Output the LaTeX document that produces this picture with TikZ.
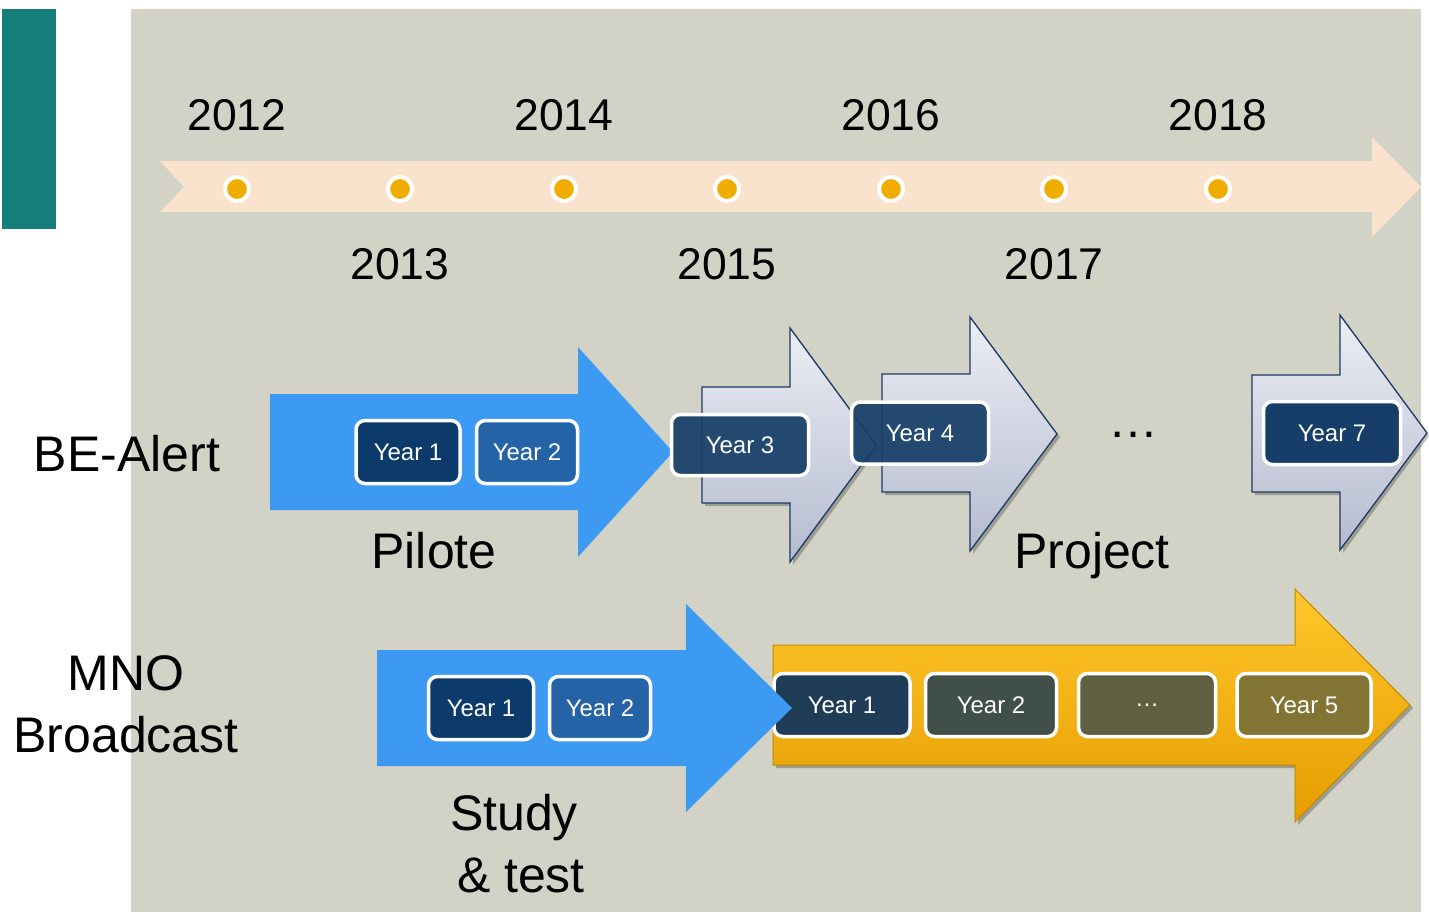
\documentclass[tikz,border=0pt]{standalone}
\usepackage{fontspec}
\setmainfont{Liberation Sans}
\definecolor{bgc}{HTML}{D2D2C6}
\definecolor{tealc}{HTML}{167E7A}
\definecolor{bandc}{HTML}{FAE3CC}
\definecolor{dotc}{HTML}{F0AD00}
\definecolor{bluea}{HTML}{3D9AF3}
\definecolor{navy}{HTML}{0C3A6A}
\definecolor{midblue}{HTML}{2363A6}
\definecolor{gtop}{HTML}{ECEEF4}
\definecolor{gbot}{HTML}{B5BBD0}
\definecolor{gline}{HTML}{1B3A63}
\definecolor{boxdark}{HTML}{163E68}
\definecolor{goldtop}{HTML}{FFC72C}
\definecolor{goldbot}{HTML}{E69D00}
\definecolor{goldline}{HTML}{C08A00}
\definecolor{gy1}{HTML}{1F3D56}
\definecolor{gy2}{HTML}{404F48}
\definecolor{gy3}{HTML}{5E603F}
\definecolor{gy5}{HTML}{827534}
\tikzset{
  ybox/.style={draw=white, line width=3.5pt, rounded corners=9pt, text=white,
    font=\fontsize{24}{28}\selectfont, minimum height=63pt, inner sep=0pt},
  bigtxt/.style={font=\fontsize{50}{56}\selectfont, anchor=base, inner sep=0pt},
  yrtxt/.style={font=\fontsize{44.5}{50}\selectfont, anchor=base, inner sep=0pt},
  tdot/.style={circle, fill=dotc, draw=white, line width=4pt, minimum size=24pt, inner sep=0pt},
  grayarrow/.style={draw=gline, line width=1.3pt, top color=gtop, bottom color=gbot},
  shadowc/.style={fill=black, opacity=0.25},
}
\begin{document}
\begin{tikzpicture}[x=1pt,y=-1pt]
\useasboundingbox (0,0) rectangle (1429,912);
\fill[white] (0,0) rectangle (1429,912);
% backgrounds
\fill[bgc] (131,9) rectangle (1421,912);
\fill[tealc] (2,9) rectangle (56,229);
% timeline band
\fill[bandc] (160,161) -- (1372,161) -- (1372,137) -- (1421,187) -- (1372,237) -- (1372,212) -- (160,212) -- (184,187) -- cycle;
\foreach \i/\x in {1/237,2/400,3/564,4/727,5/891,6/1054,7/1218}
  \node[tdot] (d\i) at (\x,189) {};
% year labels
\node[yrtxt] (y2012) at (237,131) {2012};
\node[yrtxt] (y2014) at (564,131) {2014};
\node[yrtxt] (y2016) at (891,131) {2016};
\node[yrtxt] (y2018) at (1218,131) {2018};
\node[yrtxt] (y2013) at (400,279) {2013};
\node[yrtxt] (y2015) at (727,279) {2015};
\node[yrtxt] (y2017) at (1054,279) {2017};
% row labels
\node[bigtxt] (bealert) at (127,471) {BE-Alert};
\node[bigtxt] (mno) at (126,690) {MNO};
\node[bigtxt] (broadcast) at (126,752) {Broadcast};
% Pilote arrow
\fill[bluea] (270,394) -- (578,394) -- (578,347) -- (673,452) -- (578,557) -- (578,510) -- (270,510) -- cycle;
% project arrows with shadows
\fill[shadowc] (705,390) -- (793,390) -- (793,331) -- (879,448) -- (793,565) -- (793,506) -- (705,506) -- cycle;
\path[grayarrow] (702,387) -- (790,387) -- (790,328) -- (876,445) -- (790,562) -- (790,503) -- (702,503) -- cycle;
\fill[shadowc] (885,377) -- (973,377) -- (973,320) -- (1060,437) -- (973,554) -- (973,495) -- (885,495) -- cycle;
\path[grayarrow] (882,374) -- (970,374) -- (970,317) -- (1057,434) -- (970,551) -- (970,492) -- (882,492) -- cycle;
\fill[shadowc] (1255,378) -- (1343,378) -- (1343,318) -- (1429,436) -- (1343,553) -- (1343,495) -- (1255,495) -- cycle;
\path[grayarrow] (1252,375) -- (1340,375) -- (1340,315) -- (1427,433) -- (1340,550) -- (1340,492) -- (1252,492) -- cycle;
% Pilote boxes
\node[ybox, fill=navy, minimum width=104pt] (p1) at (408,452) {Year 1};
\node[ybox, fill=midblue, minimum width=101pt] (p2) at (527,452) {Year 2};
\node[ybox, fill=boxdark, fill opacity=0.92, text opacity=1, minimum width=137pt, minimum height=61pt] (p3) at (740,445) {Year 3};
\node[ybox, fill=boxdark, fill opacity=0.92, text opacity=1, minimum width=137pt, minimum height=62pt] (p4) at (920,433) {Year 4};
\node[ybox, fill=boxdark, minimum width=137pt, minimum height=63pt] (p7) at (1332,433) {Year 7};
\node[font=\fontsize{50}{56}\selectfont, anchor=base, inner sep=0pt] (pdots) at (1133,437) {…};
\node[bigtxt] (pilote) at (434,568) {Pilote};
\node[bigtxt] (project) at (1092,568) {Project};
% gold arrow
\fill[shadowc] (776,648) -- (1298,648) -- (1298,592) -- (1413,708) -- (1298,825) -- (1298,768) -- (776,768) -- cycle;
\path[draw=goldline, line width=1pt, top color=goldtop, bottom color=goldbot] (773,645) -- (1295,645) -- (1295,589) -- (1410,705) -- (1295,822) -- (1295,765) -- (773,765) -- cycle;
\node[ybox, fill=gy1, minimum width=136pt] (g1) at (842,705) {Year 1};
\node[ybox, fill=gy2, minimum width=131pt] (g2) at (991,705) {Year 2};
\node[ybox, fill=gy3, minimum width=137pt] (g3) at (1147,705) {…};
\node[ybox, fill=gy5, minimum width=134pt] (g5) at (1304,705) {Year 5};
% MNO blue arrow
\fill[bluea] (377,650) -- (686,650) -- (686,604) -- (792,708) -- (686,812) -- (686,766) -- (377,766) -- cycle;
\node[ybox, fill=navy, minimum width=105pt] (m1) at (481,708) {Year 1};
\node[ybox, fill=midblue, minimum width=101pt] (m2) at (600,708) {Year 2};
\node[bigtxt] (study) at (514,830) {Study};
\node[bigtxt] (test) at (521,892) {\& test};
\end{tikzpicture}
\end{document}
